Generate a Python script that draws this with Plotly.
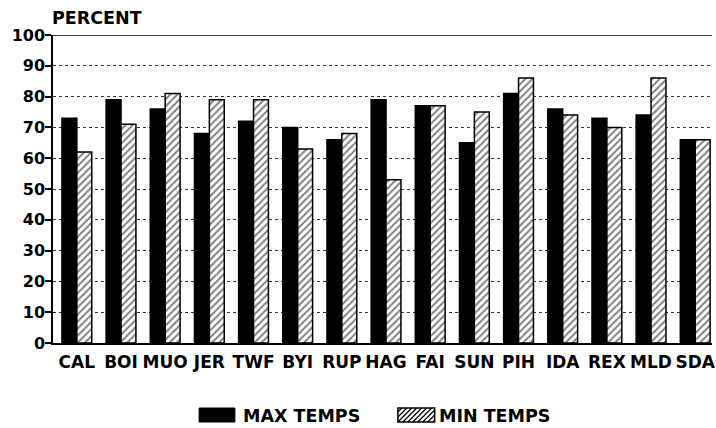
import plotly.graph_objects as go

# Station codes and percentages for the two temperature series
stations = ["CAL", "BOI", "MUO", "JER", "TWF", "BYI", "RUP", "HAG",
            "FAI", "SUN", "PIH", "IDA", "REX", "MLD", "SDA"]
max_temps = [73, 79, 76, 68, 72, 70, 66, 79, 77, 65, 81, 76, 73, 74, 66]
min_temps = [62, 71, 81, 79, 79, 63, 68, 53, 77, 75, 86, 74, 70, 86, 66]
y_ticks = [0, 10, 20, 30, 40, 50, 60, 70, 80, 90, 100]

W, H = 716, 428
ML, MR, MT, MB = 53, 0, 35, 85
PW, PH = W - ML - MR, H - MT - MB

FONT = dict(family="DejaVu Sans", color="black", weight="bold")


def px_x(x):
    return (x - ML) / PW


def px_y(y):
    return (H - MB - y) / PH


fig = go.Figure()
fig.add_trace(go.Bar(
    name="MAX TEMPS", x=stations, y=max_temps,
    marker=dict(color="black", line=dict(color="black", width=1.5)),
    showlegend=False,
))
fig.add_trace(go.Bar(
    name="MIN TEMPS", x=stations, y=min_temps,
    marker=dict(color="white", line=dict(color="black", width=1.5),
                pattern=dict(shape="/", size=5, solidity=0.4,
                             fgcolor="black", bgcolor="white")),
    showlegend=False,
))

shapes = []
# solid frame line along the 100 % level
shapes.append(dict(type="line", xref="paper", yref="y", x0=0, x1=1, y0=100, y1=100,
                   line=dict(color="black", width=1.5)))

# legend swatches
lx0, lx1, ly0, ly1 = 200, 236, 408, 422
shapes.append(dict(type="rect", xref="paper", yref="paper",
                   x0=px_x(lx0), x1=px_x(lx1), y0=px_y(ly1), y1=px_y(ly0),
                   fillcolor="black", line=dict(color="black", width=1)))
hx0, hx1, hy0, hy1 = 400, 437, 408, 422
shapes.append(dict(type="rect", xref="paper", yref="paper",
                   x0=px_x(hx0), x1=px_x(hx1), y0=px_y(hy1), y1=px_y(hy0),
                   fillcolor="white", line=dict(color="black", width=1.5)))
k = hx0 + hy0 + 4
while k < hx1 + hy1:
    xa = max(hx0, k - hy1)
    xb = min(hx1, k - hy0)
    if xb > xa:
        shapes.append(dict(type="line", xref="paper", yref="paper",
                           x0=px_x(xa), y0=px_y(k - xa), x1=px_x(xb), y1=px_y(k - xb),
                           line=dict(color="black", width=1.2)))
    k += 5

annotations = [
    dict(text="PERCENT", xref="paper", yref="paper", x=px_x(50), y=px_y(18),
         xanchor="left", yanchor="middle", showarrow=False, font=dict(size=17.5, **FONT)),
    dict(text="MAX TEMPS", xref="paper", yref="paper", x=px_x(242), y=px_y(416),
         xanchor="left", yanchor="middle", showarrow=False, font=dict(size=17.5, **FONT)),
    dict(text="MIN TEMPS", xref="paper", yref="paper", x=px_x(439), y=px_y(416),
         xanchor="left", yanchor="middle", showarrow=False, font=dict(size=17.5, **FONT)),
]

fig.update_layout(
    width=W, height=H,
    margin=dict(l=ML, r=MR, t=MT, b=MB, pad=0),
    paper_bgcolor="white", plot_bgcolor="white",
    barmode="group", bargap=0.325, bargroupgap=0,
    font=dict(size=15, **FONT),
    shapes=shapes, annotations=annotations,
    showlegend=False,
)
fig.update_xaxes(
    range=[-0.54, 14.38], showline=True, linecolor="black", linewidth=1.5,
    ticks="", showgrid=False, tickfont=dict(size=17, **FONT), ticklabelstandoff=3,
)
fig.update_yaxes(
    range=[0, 100], tickvals=y_ticks, showline=True, linecolor="black", linewidth=1.5,
    ticks="outside", ticklen=6, tickcolor="black", tickwidth=1.5,
    showgrid=True, gridcolor="#333", gridwidth=1, griddash="dot", zeroline=False,
    tickfont=dict(size=16, **FONT), ticklabelstandoff=-3,
)

fig.write_html("out.html")
